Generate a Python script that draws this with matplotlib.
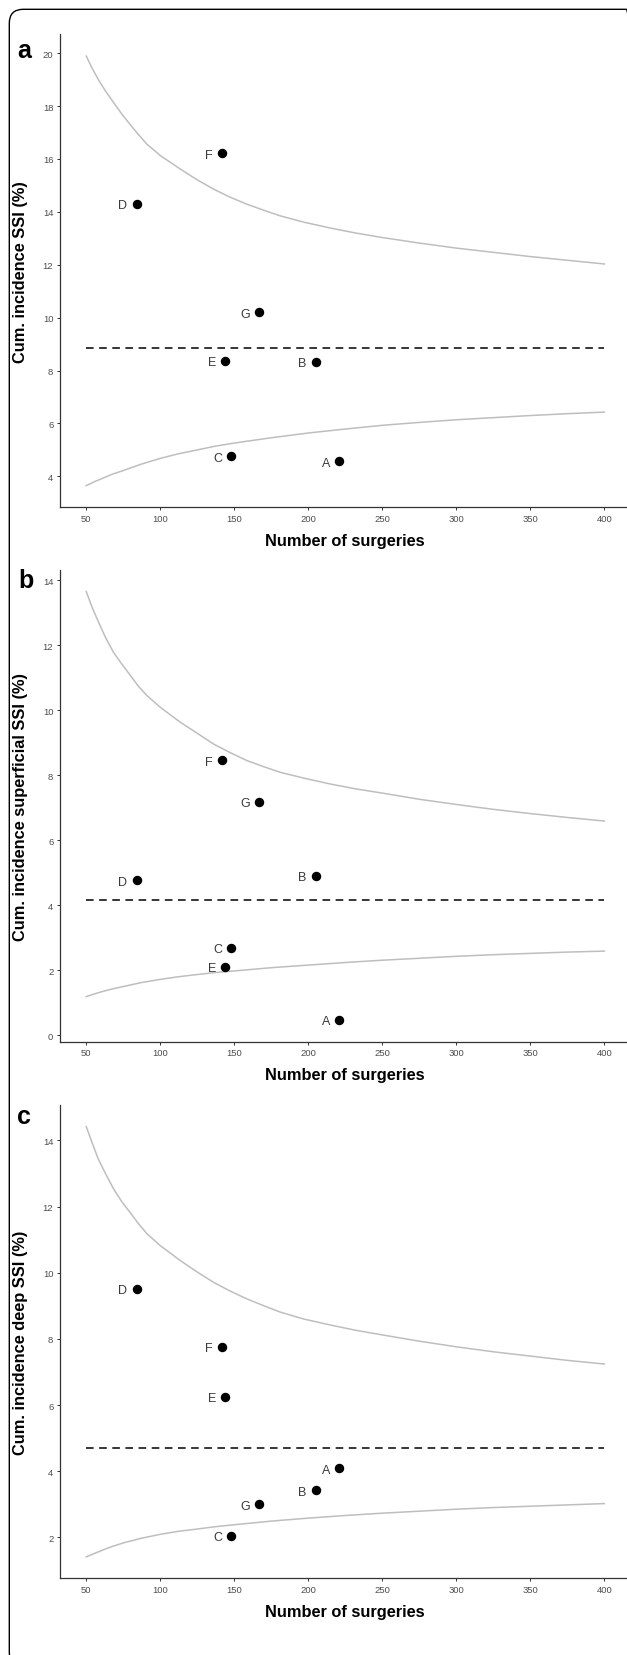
import matplotlib
matplotlib.use("Agg")
import matplotlib.pyplot as plt
from matplotlib.patches import FancyBboxPatch

# hospitals and their number of surgeries
sites = ["A", "B", "C", "D", "E", "F", "G"]
n_surgeries = [221, 205, 148, 84, 144, 142, 167]

# cumulative incidence (%) per hospital
ssi_total = [4.57, 8.33, 4.76, 14.30, 8.37, 16.21, 10.21]
ssi_superficial = [0.47, 4.90, 2.70, 4.77, 2.10, 8.46, 7.18]
ssi_deep = [4.09, 3.42, 2.04, 9.52, 6.25, 7.76, 3.00]

# overall mean (dashed line)
mean_total = 8.86
mean_superficial = 4.16
mean_deep = 4.70

# control limits
upper_n = [50, 54, 58, 63, 68.4, 74, 80, 85, 91, 100, 113.5, 125, 136, 147, 158.5,
           170, 181, 197, 214.8, 232, 250, 275, 300, 325, 350, 375, 400]
upper_total = [19.89, 19.43, 19.02, 18.57, 18.14, 17.70, 17.28, 16.94, 16.56, 16.13, 15.62, 15.21, 14.86, 14.56, 14.29,
               14.06, 13.85, 13.61, 13.39, 13.20, 13.03, 12.82, 12.63, 12.47, 12.31, 12.17, 12.03]
upper_superficial = [13.65, 13.16, 12.74, 12.24, 11.78, 11.42, 11.06, 10.75, 10.45, 10.09, 9.63, 9.29, 8.96, 8.70, 8.45,
                     8.26, 8.09, 7.91, 7.73, 7.58, 7.45, 7.26, 7.10, 6.95, 6.82, 6.70, 6.59]
upper_deep = [14.42, 13.93, 13.45, 13.00, 12.54, 12.15, 11.80, 11.50, 11.18, 10.82, 10.37, 10.02, 9.71, 9.45, 9.21,
              9.00, 8.81, 8.60, 8.42, 8.26, 8.12, 7.93, 7.76, 7.61, 7.48, 7.35, 7.24]

lower_n = [50, 56, 62, 68, 75, 87, 100, 112, 125, 137, 150, 175, 200, 225, 250, 275, 300, 325, 350, 375, 400]
lower_total = [3.65, 3.81, 3.95, 4.09, 4.22, 4.46, 4.68, 4.85, 5.00, 5.14, 5.26, 5.46, 5.64, 5.79, 5.93,
               6.04, 6.14, 6.22, 6.30, 6.37, 6.43]
lower_superficial = [1.19, 1.28, 1.36, 1.43, 1.50, 1.62, 1.72, 1.80, 1.87, 1.93, 1.98, 2.08, 2.16, 2.24, 2.31,
                     2.37, 2.43, 2.48, 2.52, 2.56, 2.59]
lower_deep = [1.41, 1.52, 1.63, 1.73, 1.83, 1.97, 2.09, 2.18, 2.25, 2.32, 2.38, 2.49, 2.58, 2.66, 2.73,
              2.79, 2.85, 2.90, 2.94, 2.98, 3.02]

x_ticks = [50, 100, 150, 200, 250, 300, 350, 400]

panels = [
    ("a", "Cum. incidence SSI (%)", ssi_total, mean_total, upper_total, lower_total,
     (2.84, 20.72), range(4, 21, 2), [0.0962, 0.6932, 0.909, 0.2856], (0.0282, 0.9648)),
    ("b", "Cum. incidence superficial SSI (%)", ssi_superficial, mean_superficial, upper_superficial, lower_superficial,
     (-0.19, 14.31), range(0, 15, 2), [0.0962, 0.37047, 0.909, 0.2847], (0.0287, 0.6449)),
    ("c", "Cum. incidence deep SSI (%)", ssi_deep, mean_deep, upper_deep, lower_deep,
     (0.77, 15.07), range(2, 15, 2), [0.0962, 0.0465, 0.909, 0.2856], (0.0268, 0.3213)),
]

plt.rcParams["font.family"] = ["Liberation Sans", "DejaVu Sans"]

fig = plt.figure(figsize=(6.27, 16.56), dpi=100)

# rounded frame around the whole figure (cropped at right and bottom)
frame = FancyBboxPatch((0.093, -0.11), 6.31, 16.567, boxstyle="round,pad=0,rounding_size=0.14",
                       transform=fig.dpi_scale_trans, fill=False, edgecolor="black", linewidth=1.0)
fig.add_artist(frame)

for letter, ylab, vals, mean, upper, lower, ylim, yticks, pos, lpos in panels:
    ax = fig.add_axes(pos)
    ax.plot(upper_n, upper, color="#bebebe", lw=1.1, solid_joinstyle="round", zorder=1)
    ax.plot(lower_n, lower, color="#bebebe", lw=1.1, solid_joinstyle="round", zorder=1)
    ax.plot([50, 400], [mean, mean], color="black", lw=1.1, linestyle=(0, (5, 3.6)), zorder=2)
    ax.plot(n_surgeries, vals, "o", color="black", markersize=5.8, zorder=3)
    for s, x, y in zip(sites, n_surgeries, vals):
        ax.annotate(s, (x, y), xytext=(-6.7, -1), textcoords="offset points",
                    ha="right", va="center", fontsize=9, color="#3a3a3a")

    ax.set_xlim(32.5, 417.5)
    ax.set_ylim(*ylim)
    ax.set_xticks(x_ticks)
    ax.set_yticks(list(yticks))
    for side in ["top", "right"]:
        ax.spines[side].set_visible(False)
    for side in ["left", "bottom"]:
        ax.spines[side].set_color("#333333")
        ax.spines[side].set_linewidth(0.9)
    ax.tick_params(length=2.2, width=0.7, color="#333333", labelcolor="#4d4d4d", labelsize=6.8)
    ax.tick_params(axis="x", pad=2.6)
    ax.tick_params(axis="y", pad=2.8)

    ax.set_xlabel("Number of surgeries", fontsize=11.8, fontweight="bold", va="center")
    ax.xaxis.set_label_coords(0.5, -0.0706)
    ax.set_ylabel(ylab, fontsize=11.8, fontweight="bold", va="center")
    ax.yaxis.set_label_coords(-0.069, 0.5)

    fig.text(lpos[0], lpos[1], letter, fontsize=18, fontweight="bold", ha="left", va="baseline")

fig.savefig("out.png", dpi=100)
